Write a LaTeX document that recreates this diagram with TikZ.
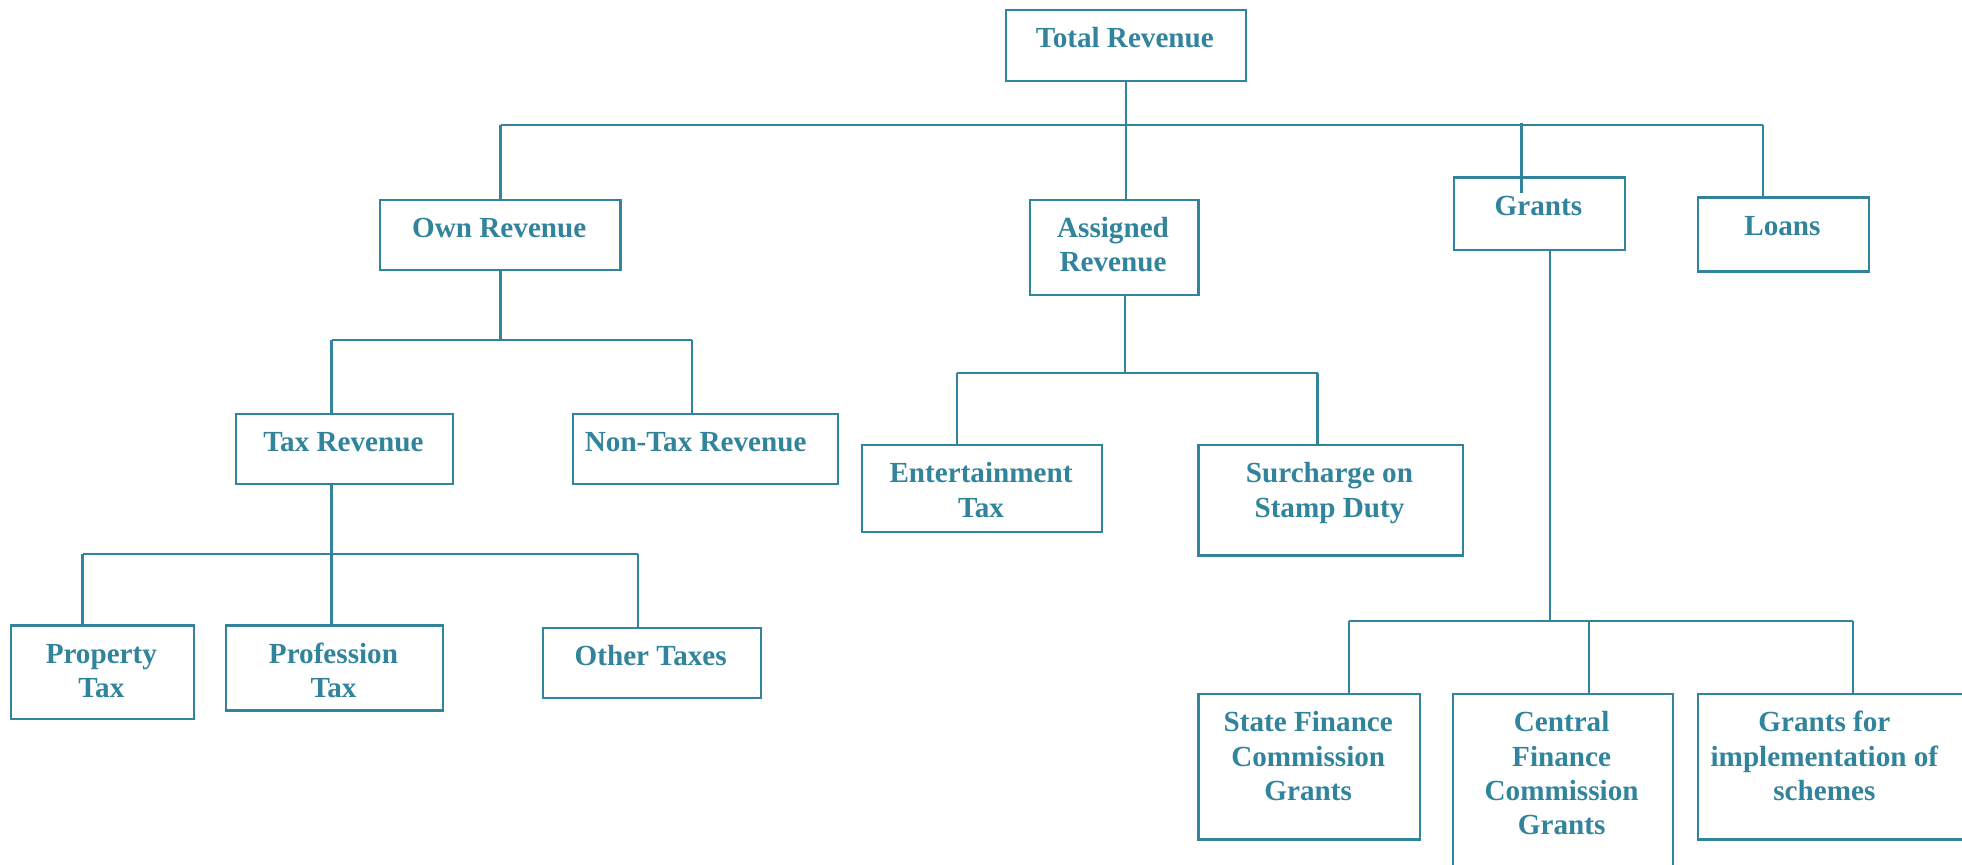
\documentclass[tikz,border=0pt]{standalone}
\usepackage{fontspec}
\setmainfont{Liberation Serif}
\definecolor{teal}{HTML}{31849B}
\tikzset{
  box/.style={draw=teal, line width=1.8pt, rectangle, inner sep=0pt, anchor=north west},
  txt/.style={text=teal, anchor=north, inner sep=0pt, align=center,
    font=\fontsize{23.3}{27.5}\selectfont\bfseries},
  wire/.style={draw=teal, line width=1.8pt}
}
% first-line strut so every label's top edge is the same distance above its baseline
\newcommand{\fl}{\rule{0pt}{17.5pt}}
\begin{document}
\begin{tikzpicture}[x=1pt,y=-1pt]
\useasboundingbox (0,0) rectangle (1568,690.5);
\clip (0,0) rectangle (1568,690.5);

% boxes: top-left corner, width, height
\node[box, minimum width=192pt, minimum height=57pt] (tot)   at (803,7)   {};
\node[box, minimum width=192pt, minimum height=56pt] (own)   at (303,159) {};
\node[box, minimum width=135pt, minimum height=76pt] (asg)   at (822,159) {};
\node[box, minimum width=137pt, minimum height=58pt] (gr)    at (1161,141) {};
\node[box, minimum width=137pt, minimum height=59pt] (loan)  at (1356,157) {};
\node[box, minimum width=173pt, minimum height=56pt] (tax)   at (188,330) {};
\node[box, minimum width=212pt, minimum height=56pt] (ntax)  at (457,330) {};
\node[box, minimum width=146pt, minimum height=75pt] (prop)  at (8,499)   {};
\node[box, minimum width=173pt, minimum height=68pt] (prof)  at (180,499) {};
\node[box, minimum width=174pt, minimum height=56pt] (oth)   at (433,501) {};
\node[box, minimum width=192pt, minimum height=69pt] (ent)   at (688,355) {};
\node[box, minimum width=211pt, minimum height=88pt] (sur)   at (957,355) {};
\node[box, minimum width=177pt, minimum height=116pt] (sfc)  at (957,554) {};
\node[box, minimum width=176pt, minimum height=140pt] (cfc)  at (1160,554) {};
\node[box, minimum width=220pt, minimum height=116pt] (gis)  at (1356,554) {};

% labels
\node[txt] (totT)  at (899,20.5)    {\fl Total Revenue};
\node[txt] (ownT)  at (399,172)     {\fl Own Revenue};
\node[txt] (asgT)  at (889.5,172)   {\fl Assigned\\Revenue};
\node[txt] (grT)   at (1229.5,154.5){\fl Grants};
\node[txt] (loanT) at (1424.5,170.5){\fl Loans};
\node[txt] (taxT)  at (274.5,343)   {\fl Tax Revenue};
\node[txt] (ntaxT) at (556,343)     {\fl Non-Tax Revenue};
\node[txt] (propT) at (81,512.5)    {\fl Property\\Tax};
\node[txt] (profT) at (266.5,512.5) {\fl Profession\\Tax};
\node[txt] (othT)  at (520,514.5)   {\fl Other Taxes};
\node[txt] (entT)  at (784,368)     {\fl Entertainment\\Tax};
\node[txt] (surT)  at (1062.5,368)  {\fl Surcharge on\\Stamp Duty};
\node[txt] (sfcT)  at (1045.5,567)  {\fl State Finance\\Commission\\Grants};
\node[txt] (cfcT)  at (1248,567)    {\fl Central\\Finance\\Commission\\Grants};
\node[txt] (gisT)  at (1458,567)    {\fl Grants for\\implementation of\\schemes};

% top level bus
\coordinate (busL) at (400,100);
\coordinate (busR) at (1409,100);
\coordinate (gtop) at (1216,98);
\coordinate (gend) at (1216,154);
\draw[wire] (busL) -- (busR);
\draw[wire] (tot.south) -- (tot.south |- asg.north);
\draw[wire] (busL) -- (busL |- own.north);
\draw[wire] (busR) -- (busR |- loan.north);
\draw[wire] (gtop) -- (gend);

% own revenue
\coordinate (ob1) at (265,272);
\coordinate (ob2) at (553,272);
\draw[wire] (own.south) -- (own.south |- ob1);
\draw[wire] (ob1) -- (ob2);
\draw[wire] (ob1) -- (ob1 |- tax.north);
\draw[wire] (ob2) -- (ob2 |- ntax.north);

% tax revenue
\coordinate (tb1) at (66,443);
\coordinate (tb2) at (265,443);
\coordinate (tb3) at (510,443);
\draw[wire] (tb2 |- tax.south) -- (tb2);
\draw[wire] (tb1) -- (tb3);
\draw[wire] (tb1) -- (tb1 |- prop.north);
\draw[wire] (tb2) -- (tb2 |- prof.north);
\draw[wire] (tb3) -- (tb3 |- oth.north);

% assigned revenue
\coordinate (ab0) at (899,298);
\coordinate (ab1) at (765,298);
\coordinate (ab2) at (1053,298);
\draw[wire] (ab0 |- asg.south) -- (ab0);
\draw[wire] (ab1) -- (ab2);
\draw[wire] (ab1) -- (ab1 |- ent.north);
\draw[wire] (ab2) -- (ab2 |- sur.north);

% grants
\coordinate (gb0) at (1239,496);
\coordinate (gb1) at (1078,496);
\coordinate (gb2) at (1270,496);
\coordinate (gb3) at (1481,496);
\draw[wire] (gb0 |- gr.south) -- (gb0);
\draw[wire] (gb1) -- (gb3);
\draw[wire] (gb1) -- (gb1 |- sfc.north);
\draw[wire] (gb2) -- (gb2 |- cfc.north);
\draw[wire] (gb3) -- (gb3 |- gis.north);
\end{tikzpicture}
\end{document}
